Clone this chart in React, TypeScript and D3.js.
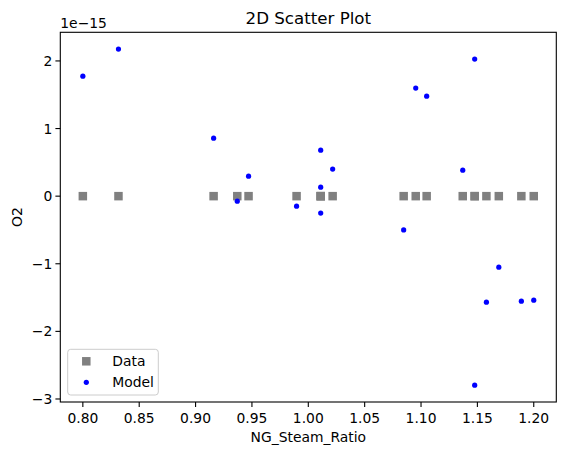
import React from "react";
import * as d3 from "d3";

const dataX = [0.80, 0.8316, 0.916, 0.937, 0.947, 0.9896, 1.011, 1.011, 1.011, 1.0216, 1.0846, 1.0953, 1.105, 1.137, 1.1476, 1.1476, 1.158, 1.169, 1.189, 1.20];
const dataY = [0, 0, 0, 0, 0, 0, 0, 0, 0, 0, 0, 0, 0, 0, 0, 0, 0, 0, 0, 0];
const modelY = [1.775, 2.175, 0.858, -0.074, 0.296, -0.148, 0.68, 0.133, -0.25, 0.40, -0.50, 1.598, 1.479, 0.385, 2.027, -2.796, -1.568, -1.05, -1.553, -1.538];
const xTicks = [0.80, 0.85, 0.90, 0.95, 1.00, 1.05, 1.10, 1.15, 1.20];
const yTicks = [-3, -2, -1, 0, 1, 2];

const W = 565, H = 455;
const L = 60.3, R = 556.3, T = 32.3, B = 402;
const FONT = "DejaVu Sans, sans-serif";
const FS = 13.89;

export default function App() {
  const xmin = d3.min(dataX)!, xmax = d3.max(dataX)!;
  const xm = (xmax - xmin) * 0.05;
  const allY = [...dataY, ...modelY];
  const ymin = d3.min(allY)!, ymax = d3.max(allY)!;
  const ym = (ymax - ymin) * 0.05;
  const x = d3.scaleLinear().domain([xmin - xm, xmax + xm]).range([L, R]);
  const y = d3.scaleLinear().domain([ymin - ym, ymax + ym]).range([B, T]);
  const fmtY = (v: number) => (v < 0 ? "\u2212" + Math.abs(v) : String(v));
  const sq = 8.5;
  return (
    <svg width={W} height={H} style={{ position: "absolute", left: 0, top: 0, background: "#fff" }} fontFamily={FONT}>
      <rect x={0} y={0} width={W} height={H} fill="#fff" />
      <text x={(L + R) / 2} y={24} textAnchor="middle" fontSize={16.67}>2D Scatter Plot</text>
      <text x={L} y={28} fontSize={FS}>1e−15</text>
      {dataX.map((d, i) => (
        <rect key={"d" + i} x={x(d) - sq / 2} y={y(dataY[i]) - sq / 2} width={sq} height={sq} fill="#808080" />
      ))}
      {dataX.map((d, i) => (
        <circle key={"m" + i} cx={x(d)} cy={y(modelY[i])} r={2.6} fill="#0000ff" />
      ))}
      <rect x={L} y={T} width={R - L} height={B - T} fill="none" stroke="#000" strokeWidth={1.1} />
      {xTicks.map((t) => (
        <g key={"x" + t}>
          <line x1={x(t)} x2={x(t)} y1={B} y2={B + 4.9} stroke="#000" strokeWidth={1.1} />
          <text x={x(t)} y={B + 21} textAnchor="middle" fontSize={FS}>{t.toFixed(2)}</text>
        </g>
      ))}
      {yTicks.map((t) => (
        <g key={"y" + t}>
          <line x1={L - 4.9} x2={L} y1={y(t)} y2={y(t)} stroke="#000" strokeWidth={1.1} />
          <text x={L - 8} y={y(t) + 5} textAnchor="end" fontSize={FS}>{fmtY(t)}</text>
        </g>
      ))}
      <text x={(L + R) / 2} y={442} textAnchor="middle" fontSize={FS}>NG_Steam_Ratio</text>
      <text transform={`translate(22,${(T + B) / 2}) rotate(-90)`} textAnchor="middle" fontSize={FS}>O2</text>
      <g>
        <rect x={67.7} y={349.3} width={90.6} height={45.7} rx={3} fill="#fff" fillOpacity={0.8} stroke="#cccccc" strokeWidth={1} />
        <rect x={86.3 - sq / 2} y={361.3 - sq / 2} width={sq} height={sq} fill="#808080" />
        <circle cx={86.3} cy={382.3} r={2.6} fill="#0000ff" />
        <text x={112.3} y={366} fontSize={FS}>Data</text>
        <text x={112.3} y={387} fontSize={FS}>Model</text>
      </g>
    </svg>
  );
}
